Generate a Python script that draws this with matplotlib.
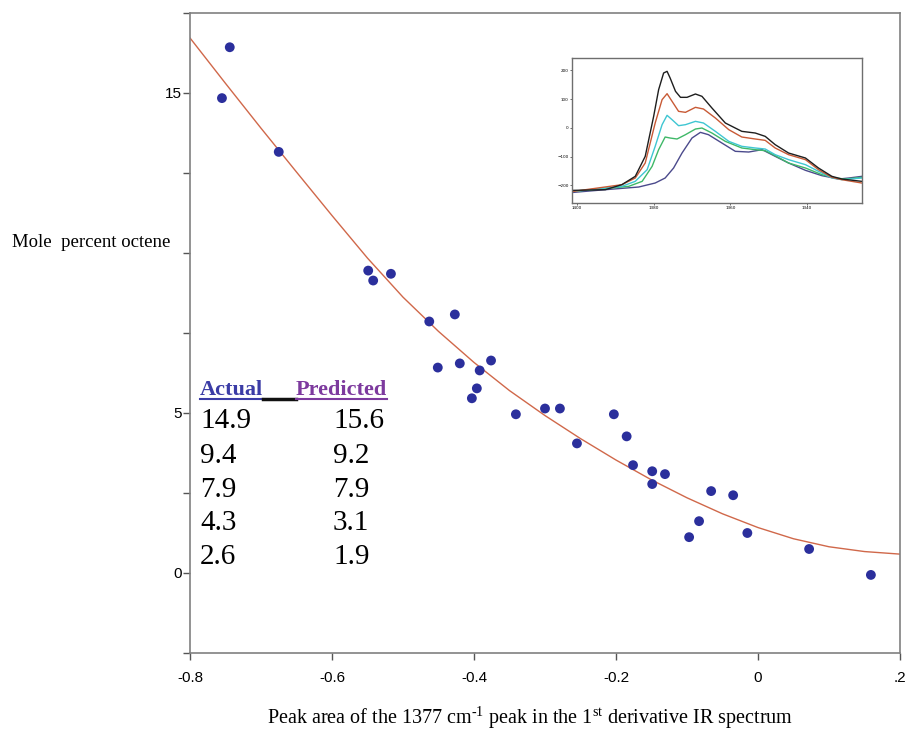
import numpy as np
import matplotlib
matplotlib.use("Agg")
import matplotlib.pyplot as plt
from matplotlib.lines import Line2D

plt.rcParams['mathtext.fontset'] = 'custom'
plt.rcParams['mathtext.rm'] = 'Liberation Serif'

# peak area (1st derivative, 1377 cm-1) vs mole percent octene
peak_area = [-0.755, -0.744, -0.675, -0.549, -0.542, -0.517, -0.463, -0.427,
             -0.451, -0.420, -0.392, -0.376, -0.396, -0.403, -0.341, -0.300,
             -0.279, -0.255, -0.203, -0.185, -0.176, -0.149, -0.131, -0.149,
             -0.066, -0.035, -0.083, -0.097, -0.015, 0.072, 0.159]
mole_pct = [14.84, 16.43, 13.16, 9.45, 9.14, 9.35, 7.86, 8.08,
            6.42, 6.55, 6.33, 6.64, 5.77, 5.46, 4.96, 5.14,
            5.14, 4.05, 4.96, 4.27, 3.37, 3.18, 3.09, 2.78,
            2.56, 2.43, 1.62, 1.12, 1.25, 0.75, -0.06]

# calibration curve
fit_x = [-0.80, -0.75, -0.70, -0.65, -0.60, -0.55, -0.50, -0.45, -0.40, -0.35, -0.30,
         -0.25, -0.20, -0.15, -0.10, -0.05, 0.00, 0.05, 0.10, 0.15, 0.20]
fit_y = [16.72, 15.30, 13.90, 12.53, 11.17, 9.84, 8.62, 7.55, 6.58, 5.70, 4.92,
         4.20, 3.53, 2.91, 2.35, 1.85, 1.42, 1.07, 0.82, 0.67, 0.59]

# table values
actual = [14.9, 9.4, 7.9, 4.3, 2.6]
predicted = [15.6, 9.2, 7.9, 3.1, 1.9]

xticks = [-0.8, -0.6, -0.4, -0.2, 0.0, 0.2]
xtick_labels = ['-0.8', '-0.6', '-0.4', '-0.2', '0', '.2']
yticks = [-2.5, 0, 2.5, 5, 7.5, 10, 12.5, 15, 17.5]
ytick_labels = ['', '0', '', '5', '', '', '', '15', '']

# inset: 1st derivative spectra
spec_black_x = [1400.9, 1392.6, 1388.3, 1384.8, 1382.2, 1380.0, 1378.7, 1377.4, 1376.5, 1375.7,
                1374.3, 1373.0, 1371.3, 1369.1, 1367.4, 1364.8, 1361.3, 1357.0, 1353.5, 1350.9,
                1348.3, 1344.8, 1340.4, 1337.0, 1333.5, 1330.9, 1325.7]
spec_black_y = [-217.4, -215.1, -197.7, -168.7, -99.1, 40.0, 132.8, 190.7, 196.5, 173.3,
                127.0, 106.1, 106.1, 117.7, 109.6, 69.0, 16.8, -12.2, -18.0, -29.6,
                -58.5, -87.6, -104.9, -139.7, -168.7, -178.0, -186.1]
spec_red_x = [1400.9, 1388.3, 1384.8, 1382.2, 1379.6, 1377.8, 1376.5, 1375.2, 1373.5, 1371.7,
              1369.1, 1367.0, 1363.9, 1360.4, 1357.0, 1353.5, 1350.9, 1348.3, 1344.8, 1340.4,
              1337.0, 1333.5, 1330.9, 1325.7]
spec_red_y = [-220.9, -197.7, -174.5, -122.3, 16.8, 98.0, 118.8, 92.2, 57.4, 53.9,
              71.3, 65.5, 34.2, -6.4, -31.9, -38.8, -43.5, -70.1, -93.3, -110.7,
              -145.5, -172.2, -180.3, -191.9]
spec_cyan_x = [1400.9, 1388.3, 1384.8, 1381.7, 1379.6, 1377.8, 1376.5, 1375.2, 1373.5, 1371.7,
               1369.1, 1367.0, 1363.9, 1360.4, 1357.0, 1353.5, 1350.9, 1348.3, 1344.8, 1340.4,
               1337.0, 1333.5, 1330.9, 1325.7]
spec_cyan_y = [-220.9, -203.5, -186.1, -145.5, -64.3, 11.0, 43.5, 28.4, 7.5, 11.0,
               22.6, 16.8, -12.2, -47.0, -64.3, -70.1, -73.6, -93.3, -110.7, -128.1,
               -151.3, -174.5, -180.3, -174.5]
spec_green_x = [1400.9, 1386.5, 1383.0, 1380.4, 1378.7, 1377.0, 1375.7, 1373.9, 1371.7, 1369.1,
                1367.4, 1364.8, 1361.3, 1357.0, 1353.5, 1350.9, 1348.3, 1344.8, 1340.4, 1336.1,
                1332.6, 1330.0, 1325.7]
spec_green_y = [-220.9, -203.5, -186.1, -133.9, -75.9, -31.9, -35.4, -38.8, -23.8, -4.1,
                -0.6, -18.0, -47.0, -70.1, -75.9, -79.4, -96.8, -122.3, -139.7, -162.9,
                -174.5, -178.0, -172.2]
spec_blue_x = [1400.9, 1392.6, 1383.9, 1379.6, 1377.0, 1374.8, 1372.6, 1370.0, 1367.8, 1365.7,
               1362.2, 1358.7, 1355.2, 1351.7, 1348.3, 1344.8, 1340.4, 1336.1, 1331.7, 1329.1,
               1325.7]
spec_blue_y = [-224.4, -215.1, -205.8, -191.9, -174.5, -139.7, -87.6, -35.4, -15.7, -23.8,
               -52.8, -81.7, -84.1, -75.9, -99.1, -122.3, -147.8, -166.4, -178.0, -174.5,
               -168.7]
inset_xticks = [1400, 1380, 1360, 1340]
inset_yticks = [200, 100, 0, -100, -200]

W, H = 911, 730


def fx(px):
    return px / W


def fy(py):
    return 1 - py / H


fig = plt.figure(figsize=(9.11, 7.3), dpi=100)
ax = fig.add_axes([fx(190), fy(653), fx(900) - fx(190), fy(13) - fy(653)])

ax.plot(fit_x, fit_y, color='#d0684a', lw=1.0, zorder=2)
ax.scatter(peak_area, mole_pct, s=50, color='#2b2f9c', edgecolors='none', zorder=3)

ax.set_xlim(-0.8, 0.2)
ax.set_ylim(-2.5, 17.5)
ax.set_xticks(xticks)
ax.set_xticklabels(xtick_labels)
ax.set_yticks(yticks)
ax.set_yticklabels(ytick_labels)
for sp in ax.spines.values():
    sp.set_color('#808080')
    sp.set_linewidth(1.2)
ax.tick_params(axis='x', direction='out', length=5, width=1, pad=8,
               labelsize=11, color='#555555')
ax.tick_params(axis='y', direction='out', length=5, width=1, pad=1,
               labelsize=11, color='#555555')
for lab in ax.get_xticklabels() + ax.get_yticklabels():
    lab.set_fontfamily('Liberation Sans')

fig.text(fx(12), fy(242), 'Mole  percent octene', family='Liberation Serif',
         fontsize=13.5, ha='left', va='center')
fig.text(fx(530), fy(718),
         r'Peak area of the 1377 cm$^{\text{-1}}$ peak in the 1$^{\mathrm{st}}$ derivative IR spectrum',
         family='Liberation Serif', fontsize=14.5, ha='center', va='center')

# actual / predicted table
fig.text(fx(200), fy(395), 'Actual', family='Liberation Serif', fontsize=16,
         weight='bold', color='#3b3ca6', ha='left', va='baseline')
fig.text(fx(296), fy(395), 'Predicted', family='Liberation Serif', fontsize=16,
         weight='bold', color='#7d3a9e', ha='left', va='baseline')
fig.add_artist(Line2D([fx(200), fx(263)], [fy(398.5), fy(398.5)], color='#3b3ca6', lw=1.5))
fig.add_artist(Line2D([fx(263), fx(296)], [fy(398.5), fy(398.5)], color='#111111', lw=2.5))
fig.add_artist(Line2D([fx(296), fx(387)], [fy(398.5), fy(398.5)], color='#7d3a9e', lw=1.5))

row_base = [428, 463, 497, 530, 564]
for a, p, yb in zip(actual, predicted, row_base):
    fig.text(fx(200), fy(yb), '{:.1f}'.format(a), family='Liberation Serif',
             fontsize=21, ha='left', va='baseline')
    fig.text(fx(333), fy(yb), '{:.1f}'.format(p), family='Liberation Serif',
             fontsize=21, ha='left', va='baseline')

# inset spectra
axi = fig.add_axes([fx(572), fy(203), fx(862) - fx(572), fy(58) - fy(203)])
axi.plot(spec_blue_x, spec_blue_y, color='#4b4a8c', lw=1.0)
axi.plot(spec_green_x, spec_green_y, color='#3fb868', lw=1.0)
axi.plot(spec_cyan_x, spec_cyan_y, color='#3fc6d2', lw=1.0)
axi.plot(spec_red_x, spec_red_y, color='#c85a36', lw=1.0)
axi.plot(spec_black_x, spec_black_y, color='#1e1e1e', lw=1.0)
axi.set_xlim(1401.3, 1325.65)
axi.set_ylim(-261.4, 242.9)
axi.set_xticks(inset_xticks)
axi.set_yticks(inset_yticks)
for sp in axi.spines.values():
    sp.set_color('#6e6e6e')
    sp.set_linewidth(1.0)
axi.tick_params(direction='out', length=1.5, width=0.6, pad=1, labelsize=3,
                color='#555555')

fig.savefig('out.png', dpi=100)
